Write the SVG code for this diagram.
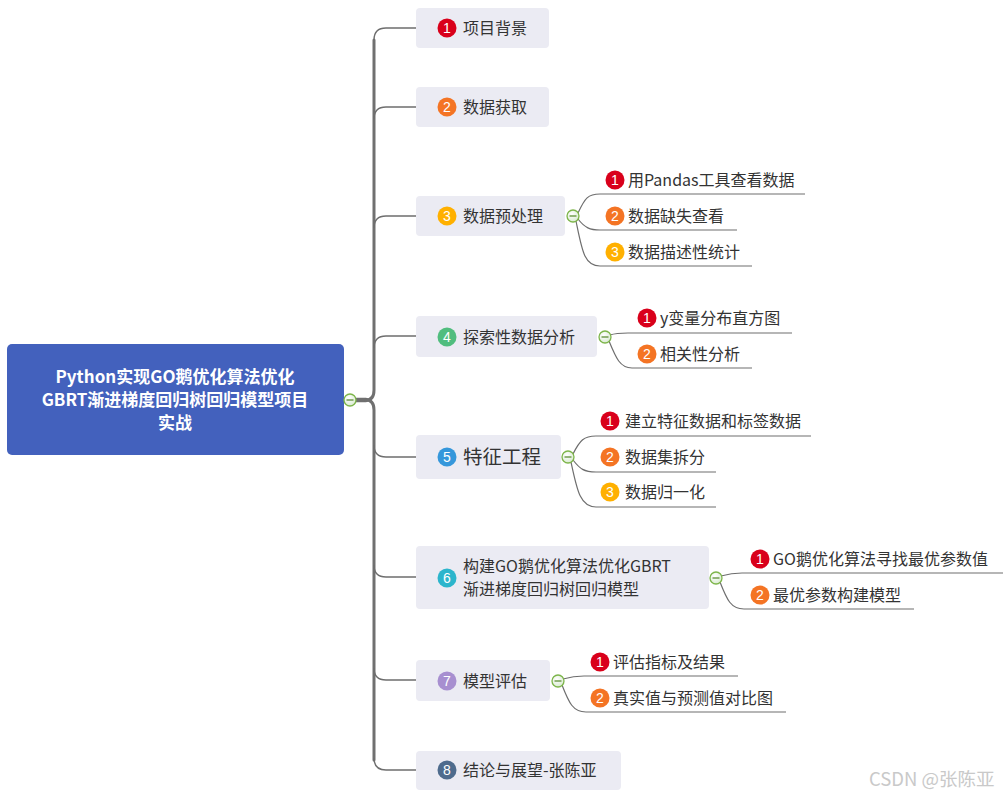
<svg xmlns="http://www.w3.org/2000/svg" width="1005" height="798" viewBox="0 0 1005 798">
<defs>
<radialGradient id="cg" cx="0.4" cy="0.35" r="0.7">
<stop offset="0" stop-color="#ffffff"/>
<stop offset="1" stop-color="#d8ead0"/>
</radialGradient>
<g id="collapse">
<circle r="6" fill="url(#cg)" stroke="#7db54a" stroke-width="1.3"/>
<line x1="-3.5" y1="0" x2="3.5" y2="0" stroke="#5d8f35" stroke-width="1.3"/>
</g>
</defs>
<style>
text{font-family:"Noto Sans CJK SC","Microsoft YaHei",sans-serif;}
.root{fill:#4361BD;}
.rootT{fill:#ffffff;font-size:17px;font-weight:bold;text-anchor:middle;}
.nb{fill:#EBEBF3;}
.t1{fill:#333333;font-size:16px;}
.t5{fill:#333333;font-size:19.5px;}
.t2{fill:#333333;font-size:16px;}
.bn{fill:#ffffff;font-family:"Liberation Sans",Arial,sans-serif;font-size:14px;text-anchor:middle;}
.trunk{fill:none;stroke:#707070;stroke-linecap:round;}
.br{fill:none;stroke:#6e6e6e;stroke-width:1.4;}
.sub{fill:none;stroke:#6e6e6e;stroke-width:1.2;}
.c1{fill:#D9001B;}.c2{fill:#F47424;}.c3{fill:#FFB000;}.c4{fill:#50BD7E;}
.c5{fill:#3597DB;}.c6{fill:#2CB5CC;}.c7{fill:#A78FD0;}.c8{fill:#4E6B8D;}
.wm{fill:#c9c9c9;font-size:18.5px;}
</style>

<g id="connectors">
<path class="trunk" stroke-width="4.5" d="M350,400 H366"/>
<path class="trunk" stroke-width="3" d="M366,400 Q374,400 374,390 V40"/>
<path class="trunk" stroke-width="3" d="M366,400 Q374,400 374,410 V760"/>
<path class="br" d="M374,40 Q374,28 386,28 H416"/>
<path class="br" d="M374,119 Q374,107 386,107 H416"/>
<path class="br" d="M374,228 Q374,216 386,216 H416"/>
<path class="br" d="M374,348 Q374,336 386,336 H416"/>
<path class="br" d="M374,445 Q374,457 386,457 H416"/>
<path class="br" d="M374,565 Q374,577 386,577 H416"/>
<path class="br" d="M374,668 Q374,680 386,680 H416"/>
<path class="br" d="M374,758 Q374,770 386,770 H416"/>
<!-- group 3 -->
<path class="sub" d="M578,213 C585,198 588,194 600,194 H805"/>
<path class="sub" d="M578,219 C585,228 590,230 600,230 H737"/>
<path class="sub" d="M576,221 C582,250 584,266 600,266 H752"/>
<!-- group 4 -->
<path class="sub" d="M610,335 C616,333 620,333 628,333 H792"/>
<path class="sub" d="M609,341 C616,358 620,368 632,368 H752"/>
<!-- group 5 -->
<path class="sub" d="M573,454 C580,440 584,436 596,436 H811"/>
<path class="sub" d="M573,460 C580,469 584,472 596,472 H716"/>
<path class="sub" d="M571,462 C577,490 580,507 596,507 H716"/>
<!-- group 6 -->
<path class="sub" d="M721,576 C728,574 732,573 742,573 H1003"/>
<path class="sub" d="M720,582 C727,600 731,609 744,609 H914"/>
<!-- group 7 -->
<path class="sub" d="M563,679 C570,677 574,676 584,676 H738"/>
<path class="sub" d="M562,685 C569,703 573,712 586,712 H786"/>
</g>

<g id="root">
<rect class="root" x="7" y="344" width="337" height="111" rx="5"/>
<text class="rootT" x="175" y="383">Python实现GO鹅优化算法优化</text>
<text class="rootT" x="175" y="406">GBRT渐进梯度回归树回归模型项目</text>
<text class="rootT" x="175" y="429">实战</text>
<use href="#collapse" x="350" y="400"/>
</g>

<g id="n1">
<rect class="nb" x="416" y="8" width="133" height="40" rx="4"/>
<circle class="c1" cx="447" cy="28" r="9.5"/><text class="bn" x="447" y="33">1</text>
<text class="t1" x="463" y="33.5">项目背景</text>
</g>
<g id="n2">
<rect class="nb" x="416" y="87" width="133" height="40" rx="4"/>
<circle class="c2" cx="447" cy="107" r="9.5"/><text class="bn" x="447" y="112">2</text>
<text class="t1" x="463" y="112.5">数据获取</text>
</g>
<g id="n3">
<rect class="nb" x="416" y="196" width="149" height="40" rx="4"/>
<circle class="c3" cx="447" cy="216" r="9.5"/><text class="bn" x="447" y="221">3</text>
<text class="t1" x="463" y="221.5">数据预处理</text>
<use href="#collapse" x="573" y="216"/>
</g>
<g id="n3-1">
<circle class="c1" cx="615" cy="180" r="9.5"/><text class="bn" x="615" y="185">1</text>
<text class="t2" x="628" y="185.5">用Pandas工具查看数据</text>
</g>
<g id="n3-2">
<circle class="c2" cx="615" cy="216" r="9.5"/><text class="bn" x="615" y="221">2</text>
<text class="t2" x="628" y="221.5">数据缺失查看</text>
</g>
<g id="n3-3">
<circle class="c3" cx="615" cy="252" r="9.5"/><text class="bn" x="615" y="257">3</text>
<text class="t2" x="628" y="257.5">数据描述性统计</text>
</g>
<g id="n4">
<rect class="nb" x="416" y="316" width="181" height="41" rx="4"/>
<circle class="c4" cx="447" cy="337" r="9.5"/><text class="bn" x="447" y="342">4</text>
<text class="t1" x="463" y="342.5">探索性数据分析</text>
<use href="#collapse" x="605" y="337"/>
</g>
<g id="n4-1">
<circle class="c1" cx="647" cy="318" r="9.5"/><text class="bn" x="647" y="323">1</text>
<text class="t2" x="660" y="323.5">y变量分布直方图</text>
</g>
<g id="n4-2">
<circle class="c2" cx="647" cy="354" r="9.5"/><text class="bn" x="647" y="359">2</text>
<text class="t2" x="660" y="359.5">相关性分析</text>
</g>
<g id="n5">
<rect class="nb" x="416" y="435" width="145" height="44" rx="4"/>
<circle class="c5" cx="447" cy="457" r="9.5"/><text class="bn" x="447" y="462">5</text>
<text class="t5" x="463" y="464">特征工程</text>
<use href="#collapse" x="568" y="457"/>
</g>
<g id="n5-1">
<circle class="c1" cx="610" cy="421" r="9.5"/><text class="bn" x="610" y="426">1</text>
<text class="t2" x="625" y="426.5">建立特征数据和标签数据</text>
</g>
<g id="n5-2">
<circle class="c2" cx="610" cy="457" r="9.5"/><text class="bn" x="610" y="462">2</text>
<text class="t2" x="625" y="462.5">数据集拆分</text>
</g>
<g id="n5-3">
<circle class="c3" cx="610" cy="492" r="9.5"/><text class="bn" x="610" y="497">3</text>
<text class="t2" x="625" y="497.5">数据归一化</text>
</g>
<g id="n6">
<rect class="nb" x="416" y="546" width="293" height="63" rx="4"/>
<circle class="c6" cx="447" cy="578" r="9.5"/><text class="bn" x="447" y="583">6</text>
<text class="t1" x="463" y="572">构建GO鹅优化算法优化GBRT</text>
<text class="t1" x="463" y="595">渐进梯度回归树回归模型</text>
<use href="#collapse" x="716" y="578"/>
</g>
<g id="n6-1">
<circle class="c1" cx="760" cy="559" r="9.5"/><text class="bn" x="760" y="564">1</text>
<text class="t2" x="773" y="564.5">GO鹅优化算法寻找最优参数值</text>
</g>
<g id="n6-2">
<circle class="c2" cx="760" cy="595" r="9.5"/><text class="bn" x="760" y="600">2</text>
<text class="t2" x="773" y="600.5">最优参数构建模型</text>
</g>
<g id="n7">
<rect class="nb" x="416" y="660" width="134" height="41" rx="4"/>
<circle class="c7" cx="447" cy="681" r="9.5"/><text class="bn" x="447" y="686">7</text>
<text class="t1" x="463" y="686.5">模型评估</text>
<use href="#collapse" x="558" y="681"/>
</g>
<g id="n7-1">
<circle class="c1" cx="600" cy="662" r="9.5"/><text class="bn" x="600" y="667">1</text>
<text class="t2" x="613" y="667.5">评估指标及结果</text>
</g>
<g id="n7-2">
<circle class="c2" cx="600" cy="698" r="9.5"/><text class="bn" x="600" y="703">2</text>
<text class="t2" x="613" y="703.5">真实值与预测值对比图</text>
</g>
<g id="n8">
<rect class="nb" x="416" y="751" width="205" height="39" rx="4"/>
<circle class="c8" cx="447" cy="770" r="9.5"/><text class="bn" x="447" y="775">8</text>
<text class="t1" x="463" y="775.5">结论与展望-张陈亚</text>
</g>
<text class="wm" x="869" y="786">CSDN @张陈亚</text>
</svg>
